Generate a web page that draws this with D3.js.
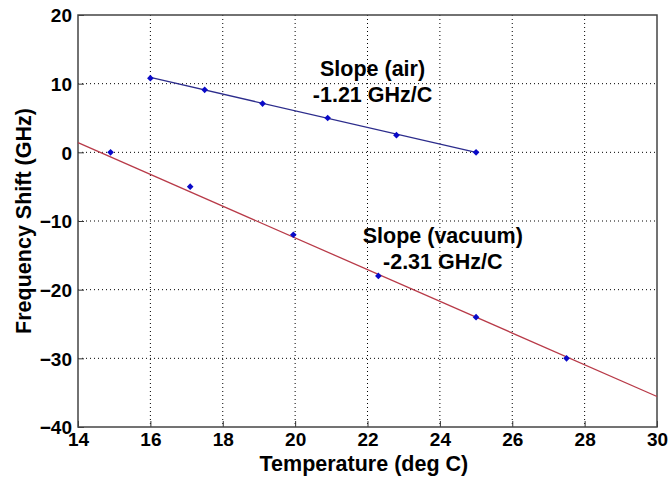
<!DOCTYPE html>
<html>
<head>
<meta charset="utf-8">
<script src="https://cdn.jsdelivr.net/npm/d3@7"></script>
<style>
  body { margin: 0; background: #fff; }
  svg text { font-family: "Liberation Sans", Arial, sans-serif; font-weight: bold; fill: #000; }
</style>
</head>
<body>
<div id="chart"></div>
<script>
// Measured points (temperature, shift)
var airTemp = [16.0, 17.5, 19.1, 20.9, 22.8, 25.0];
var airShift = [10.8, 9.1, 7.1, 5.0, 2.5, 0.0];
var vacTemp = [14.9, 17.1, 19.95, 22.3, 25.0, 27.5];
var vacShift = [0.0, -5.0, -12.0, -18.0, -24.0, -30.0];

// Fit lines (endpoints)
var airFitTemp = [16, 25];
var airFitShift = [10.9, 0.0];
var vacFitTemp = [14, 30];
var vacFitShift = [1.4, -35.56];

var xTicks = [14, 16, 18, 20, 22, 24, 26, 28, 30];
var yTicks = [20, 10, 0, -10, -20, -30, -40];

var margin = {top: 15, right: 14, bottom: 54, left: 78};
var width = 671 - margin.left - margin.right;
var height = 481 - margin.top - margin.bottom;

var svg = d3.select("#chart").append("svg")
    .attr("width", 671)
    .attr("height", 481)
    .append("g")
    .attr("transform", "translate(" + margin.left + "," + margin.top + ")");

var x = d3.scaleLinear().domain([14, 30]).range([0, width]);
var y = d3.scaleLinear().domain([-40, 20]).range([height, 0]);

// grid
svg.append("g").selectAll("line.vg")
    .data(xTicks.slice(1, -1))
    .enter().append("line")
    .attr("x1", d => x(d)).attr("x2", d => x(d))
    .attr("y1", 0).attr("y2", height)
    .attr("stroke", "#000").attr("stroke-width", 1)
    .attr("stroke-dasharray", "1,3");
svg.append("g").selectAll("line.hg")
    .data(yTicks.slice(1, -1))
    .enter().append("line")
    .attr("y1", d => y(d)).attr("y2", d => y(d))
    .attr("x1", 0).attr("x2", width)
    .attr("stroke", "#000").attr("stroke-width", 1)
    .attr("stroke-dasharray", "1,3");

// axes (ticks inside)
var xAxis = d3.axisBottom(x).tickValues(xTicks).tickSize(-6).tickPadding(6).tickFormat(d3.format("d"));
var yAxis = d3.axisLeft(y).tickValues(yTicks).tickSize(-6).tickPadding(6).tickFormat(d3.format("d"));

svg.append("g")
    .attr("class", "x-axis")
    .attr("transform", "translate(0," + height + ")")
    .call(xAxis);
svg.append("g")
    .attr("class", "y-axis")
    .call(yAxis);

svg.selectAll(".x-axis text, .y-axis text")
    .style("font-size", "19px");
svg.selectAll(".y-axis text").attr("dy", "0.36em");
svg.selectAll(".domain").remove();
svg.selectAll(".tick line").attr("stroke", "#333");

// frame
svg.append("rect")
    .attr("width", width).attr("height", height)
    .attr("fill", "none").attr("stroke", "#444").attr("stroke-width", 1.5);

// fit lines
var line = d3.line().x(d => x(d[0])).y(d => y(d[1]));
svg.append("path")
    .datum(d3.zip(airFitTemp, airFitShift))
    .attr("d", line).attr("fill", "none")
    .attr("stroke", "#2c2c8c").attr("stroke-width", 1.3);
svg.append("path")
    .datum(d3.zip(vacFitTemp, vacFitShift))
    .attr("d", line).attr("fill", "none")
    .attr("stroke", "#b83a48").attr("stroke-width", 1.3);

// markers
var diamond = d3.symbol().type(d3.symbolDiamond2).size(28);
svg.append("g").selectAll("path")
    .data(d3.zip(airTemp, airShift).concat(d3.zip(vacTemp, vacShift)))
    .enter().append("path")
    .attr("d", diamond)
    .attr("transform", d => "translate(" + x(d[0]) + "," + y(d[1]) + ")")
    .attr("fill", "#0a0ac8");

// annotations
var notes = [
    {t: 22.14, v: 11.07, lines: ["Slope (air)", "-1.21 GHz/C"]},
    {t: 24.08, v: -13.2, lines: ["Slope (vacuum)", "-2.31 GHz/C"]}
];
notes.forEach(n => {
    var txt = svg.append("text")
        .attr("x", x(n.t)).attr("y", y(n.v))
        .attr("text-anchor", "middle")
        .style("font-size", "21.5px");
    n.lines.forEach((l, i) => {
        txt.append("tspan").attr("x", x(n.t)).attr("dy", i == 0 ? 0 : 26).text(l);
    });
});

// axis labels
svg.append("text")
    .attr("x", x(21.9)).attr("y", height + 44)
    .attr("text-anchor", "middle")
    .style("font-size", "21.5px")
    .text("Temperature (deg C)");
svg.append("text")
    .attr("transform", "translate(" + (-47) + "," + (height / 2) + ") rotate(-90)")
    .attr("text-anchor", "middle")
    .style("font-size", "21.5px")
    .text("Frequency Shift (GHz)");
</script>
</body>
</html>
